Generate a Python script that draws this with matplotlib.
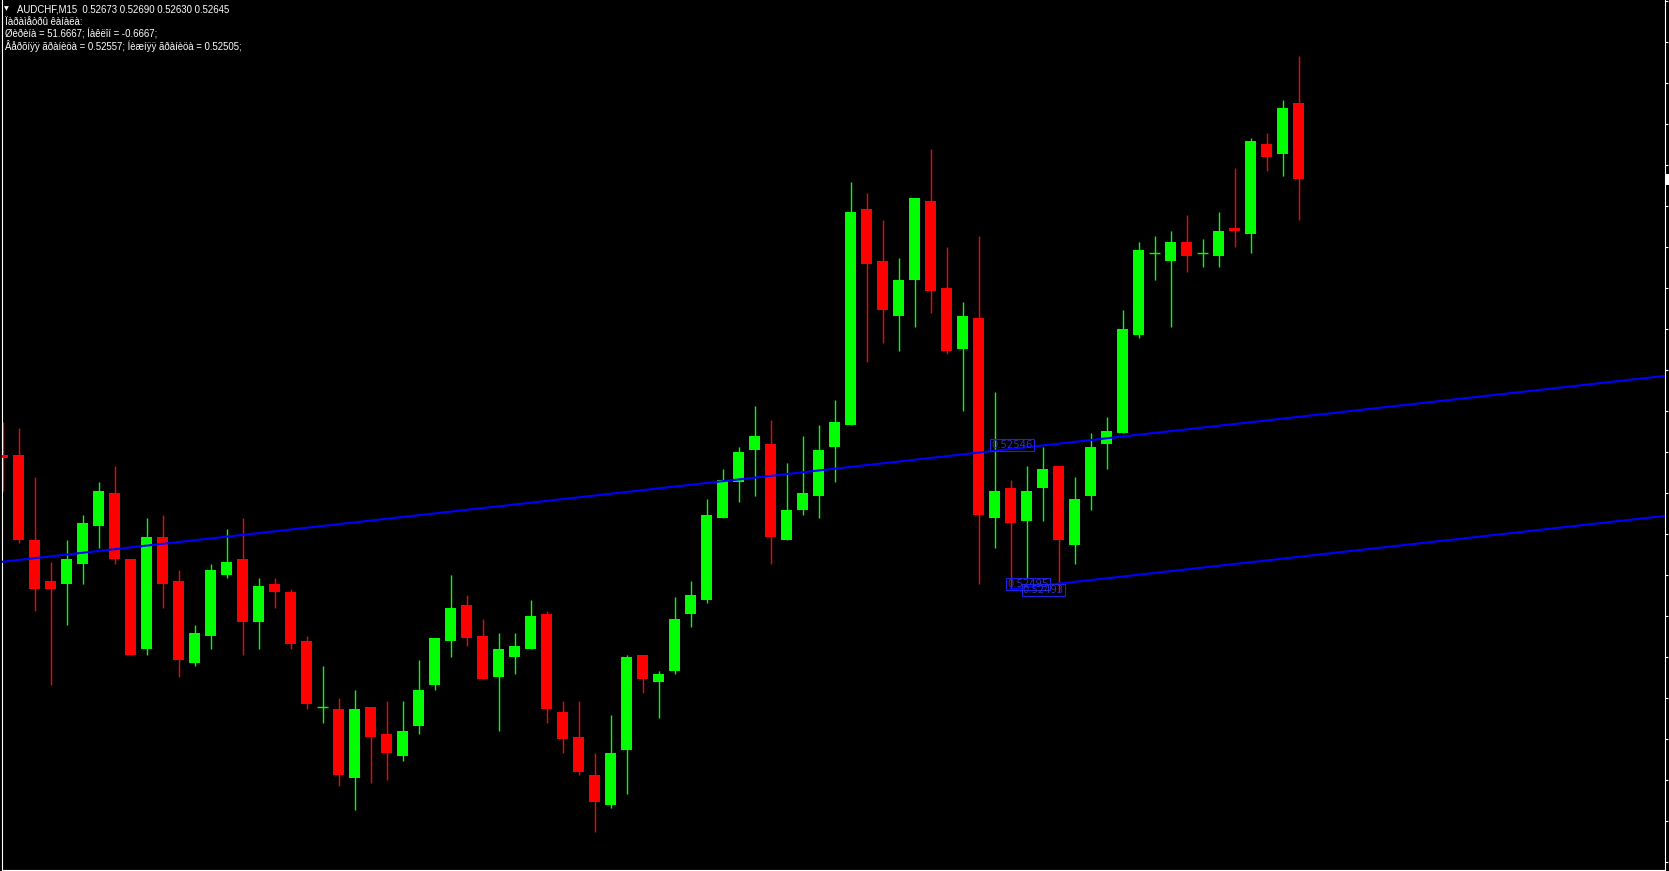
import matplotlib
matplotlib.use("Agg")
import matplotlib.pyplot as plt
import matplotlib.transforms as mtransforms
from matplotlib.patches import Rectangle
import numpy as np

# AUDCHF M15 candles, left to right (prices)
OPEN = [0.52544, 0.52544, 0.52513, 0.52498, 0.52497, 0.52504, 0.52518, 0.52530, 0.52506, 0.52473,
        0.52514, 0.52498, 0.52468, 0.52478, 0.52500, 0.52506, 0.52483, 0.52497, 0.52494, 0.52476,
        0.52452, 0.52451, 0.52426, 0.52452, 0.52442, 0.52434, 0.52445, 0.52460, 0.52476, 0.52489,
        0.52478, 0.52463, 0.52470, 0.52473, 0.52486, 0.52450, 0.52441, 0.52427, 0.52416, 0.52436,
        0.52471, 0.52461, 0.52465, 0.52486, 0.52491, 0.52521, 0.52534, 0.52546, 0.52548, 0.52513,
        0.52524, 0.52529, 0.52547, 0.52555, 0.52634, 0.52615, 0.52595, 0.52608, 0.52637, 0.52605,
        0.52583, 0.52594, 0.52521, 0.52532, 0.52520, 0.52532, 0.52540, 0.52511, 0.52529, 0.52548,
        0.52552, 0.52588, 0.52618, 0.52615, 0.52622, 0.52618, 0.52617, 0.52627, 0.52625, 0.52658,
        0.52654, 0.52673]
HIGH = [0.52556, 0.52554, 0.52536, 0.52505, 0.52513, 0.52522, 0.52534, 0.52540, 0.52506, 0.52521,
        0.52522, 0.52502, 0.52482, 0.52504, 0.52517, 0.52521, 0.52499, 0.52499, 0.52495, 0.52478,
        0.52467, 0.52455, 0.52458, 0.52452, 0.52454, 0.52454, 0.52469, 0.52477, 0.52500, 0.52493,
        0.52484, 0.52479, 0.52479, 0.52491, 0.52487, 0.52454, 0.52454, 0.52435, 0.52449, 0.52471,
        0.52471, 0.52465, 0.52492, 0.52498, 0.52528, 0.52539, 0.52547, 0.52562, 0.52557, 0.52541,
        0.52551, 0.52555, 0.52564, 0.52644, 0.52640, 0.52630, 0.52616, 0.52638, 0.52656, 0.52620,
        0.52600, 0.52624, 0.52567, 0.52535, 0.52540, 0.52547, 0.52540, 0.52536, 0.52552, 0.52558,
        0.52597, 0.52622, 0.52624, 0.52626, 0.52632, 0.52623, 0.52633, 0.52649, 0.52660, 0.52662,
        0.52674, 0.52690]
LOW = [0.52531, 0.52512, 0.52487, 0.52460, 0.52482, 0.52497, 0.52510, 0.52504, 0.52471, 0.52471,
       0.52488, 0.52463, 0.52467, 0.52473, 0.52499, 0.52471, 0.52473, 0.52488, 0.52473, 0.52451,
       0.52446, 0.52423, 0.52414, 0.52424, 0.52425, 0.52432, 0.52442, 0.52458, 0.52470, 0.52474,
       0.52462, 0.52443, 0.52464, 0.52473, 0.52446, 0.52435, 0.52427, 0.52406, 0.52415, 0.52420,
       0.52457, 0.52448, 0.52464, 0.52481, 0.52490, 0.52521, 0.52527, 0.52529, 0.52504, 0.52513,
       0.52522, 0.52521, 0.52534, 0.52555, 0.52578, 0.52585, 0.52582, 0.52591, 0.52596, 0.52581,
       0.52560, 0.52497, 0.52510, 0.52495, 0.52499, 0.52520, 0.52494, 0.52504, 0.52524, 0.52539,
       0.52552, 0.52587, 0.52608, 0.52591, 0.52611, 0.52613, 0.52613, 0.52620, 0.52618, 0.52648,
       0.52646, 0.52630]
CLOSE = [0.52543, 0.52513, 0.52495, 0.52495, 0.52506, 0.52519, 0.52531, 0.52506, 0.52471, 0.52514,
         0.52497, 0.52469, 0.52479, 0.52502, 0.52505, 0.52483, 0.52496, 0.52494, 0.52475, 0.52453,
         0.52452, 0.52427, 0.52451, 0.52441, 0.52435, 0.52443, 0.52458, 0.52477, 0.52488, 0.52477,
         0.52462, 0.52473, 0.52474, 0.52485, 0.52451, 0.52440, 0.52428, 0.52417, 0.52435, 0.52470,
         0.52462, 0.52464, 0.52484, 0.52493, 0.52522, 0.52535, 0.52545, 0.52551, 0.52514, 0.52524,
         0.52530, 0.52546, 0.52556, 0.52633, 0.52614, 0.52597, 0.52608, 0.52638, 0.52604, 0.52582,
         0.52595, 0.52522, 0.52531, 0.52519, 0.52531, 0.52539, 0.52513, 0.52528, 0.52547, 0.52553,
         0.52590, 0.52619, 0.52618, 0.52622, 0.52617, 0.52618, 0.52626, 0.52626, 0.52659, 0.52653,
         0.52671, 0.52645]

# channel: upper line through two points, lower line parallel from its anchor bar
UPPER_BARS = [0, 81]
UPPER_PRICES = [0.52505, 0.52558]
LOWER_BAR = 63
LOWER_PRICE = 0.52495

# price labels drawn on the chart: (bar, price text)
PRICE_LABELS = [(61.8, "0.52546"), (62.8, "0.52495"), (63.75, "0.52493")]

HEADER = [
    "AUDCHF,M15  0.52673 0.52690 0.52630 0.52645",
    "Ïàðàìåòðû êàíàëà:",
    "Øèðèíà = 51.6667; Íàêëîí = -0.6667;",
    "Âåðõíÿÿ ãðàíèöà = 0.52557; Íèæíÿÿ ãðàíèöà = 0.52505;",
]

BULL = "#00ff00"
BEAR = "#ff0000"
LINE_BLUE = "#0000ff"


def main():
    W, H = 1669, 871
    fig = plt.figure(figsize=(W / 100, H / 100), dpi=100, facecolor="black")
    ax = fig.add_axes([1.5 / W, 1.5 / H, 1663 / W, 1 - 1.5 / H])
    ax.set_facecolor("black")

    n = len(OPEN)
    x = np.arange(n)
    o, h, l, c = map(np.array, (OPEN, HIGH, LOW, CLOSE))
    colors = [BULL if cc >= oo else BEAR for oo, cc in zip(o, c)]

    # wicks
    ax.vlines(x, l, h, colors=colors, linewidth=1.0, zorder=2)
    # bodies
    bottoms = np.minimum(o, c)
    heights = np.abs(c - o)
    ax.bar(x, heights, bottom=bottoms, width=0.69, color=colors,
           linewidth=0, zorder=3)
    doji = heights == 0
    ax.hlines(o[doji], x[doji] - 0.345, x[doji] + 0.345,
              colors=[colors[i] for i in np.where(doji)[0]], linewidth=1.0, zorder=3)

    # channel lines
    slope = (UPPER_PRICES[1] - UPPER_PRICES[0]) / (UPPER_BARS[1] - UPPER_BARS[0])
    ax.axline((UPPER_BARS[0], UPPER_PRICES[0]), slope=slope,
              color=LINE_BLUE, linewidth=1.5, zorder=4)
    xr = np.array([LOWER_BAR, 110])
    ax.plot(xr, LOWER_PRICE + slope * (xr - LOWER_BAR),
            color=LINE_BLUE, linewidth=1.5, zorder=4)

    for bx, txt in PRICE_LABELS:
        ax.text(bx, float(txt), txt, ha="left", va="bottom", fontsize=7.2,
                color="#3030b8", zorder=5,
                bbox=dict(boxstyle="square,pad=0.1", facecolor="none",
                          edgecolor="#2020e0", linewidth=0.8))

    ax.set_xlim(-0.0625, 103.875)
    ax.set_ylim(0.523924, 0.527105)

    # axes frame like the terminal window
    for side in ("left", "right", "bottom"):
        ax.spines[side].set_color("white")
        ax.spines[side].set_linewidth(0.8)
    ax.spines["top"].set_visible(False)

    ax.yaxis.tick_right()
    ax.set_yticks(np.arange(0.52395, 0.52711, 0.00015))
    ax.set_yticklabels([])
    ax.set_xticks(np.arange(0, n, 4))
    ax.set_xticklabels([])
    ax.tick_params(axis="y", direction="out", length=2.2, width=0.8, color="white")
    ax.tick_params(axis="x", direction="out", length=1.5, width=0.8, color="white")

    # current price marker at the right edge
    trans = mtransforms.blended_transform_factory(ax.transAxes, ax.transData)
    ax.add_patch(Rectangle((1.0012, CLOSE[-1] - 0.00002), 0.004, 0.00004,
                           transform=trans, facecolor="white", edgecolor="none",
                           clip_on=False))

    # header text, top-left
    fig.text(4 / W, 1 - 10.5 / H, "▼", fontsize=4.5, color="white",
             family="DejaVu Sans", va="baseline")
    baselines = [12, 25, 37.5, 49.5]
    for i, line in enumerate(HEADER):
        xpos = 17 if i == 0 else 5
        fig.text(xpos / W, 1 - baselines[i] / H, line, fontsize=6.95,
                 color="white", family=["Liberation Sans", "DejaVu Sans"],
                 va="baseline")

    fig.savefig("out.png", dpi=100, facecolor="black")


if __name__ == "__main__":
    main()
